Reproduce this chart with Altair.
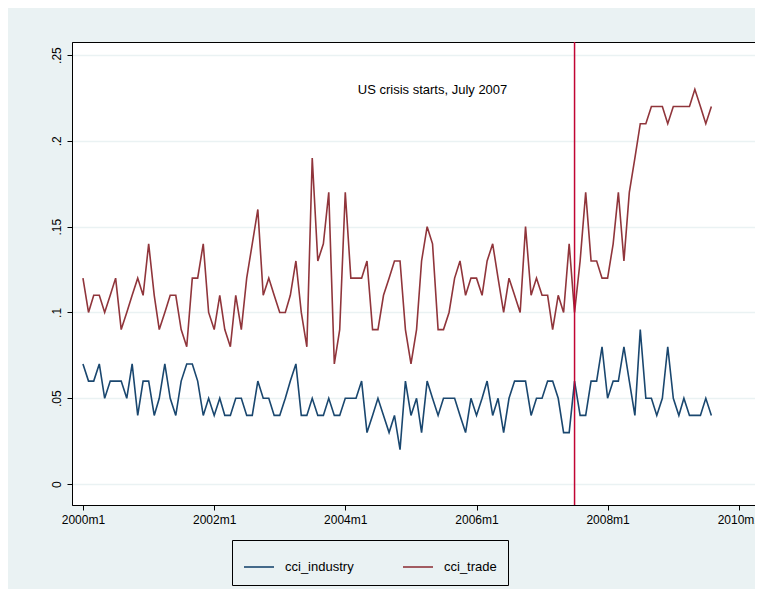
import pandas as pd
import altair as alt

cci_industry = [
    .07, .06, .06, .07, .05, .06, .06, .06, .05, .07, .04, .06, .06, .04, .05, .07, .05, .04, .06, .07,
    .07, .06, .04, .05, .04, .05, .04, .04, .05, .05, .04, .04, .06, .05, .05, .04, .04, .05, .06, .07,
    .04, .04, .05, .04, .04, .05, .04, .04, .05, .05, .05, .06, .03, .04, .05, .04, .03, .04, .02, .06,
    .04, .05, .03, .06, .05, .04, .05, .05, .05, .04, .03, .05, .04, .05, .06, .04, .05, .03, .05, .06,
    .06, .06, .04, .05, .05, .06, .06, .05, .03, .03, .06, .04, .04, .06, .06, .08, .05, .06, .06, .08,
    .06, .04, .09, .05, .05, .04, .05, .08, .05, .04, .05, .04, .04, .04, .05, .04,
]
cci_trade = [
    .12, .10, .11, .11, .10, .11, .12, .09, .10, .11, .12, .11, .14, .11, .09, .10, .11, .11, .09, .08,
    .12, .12, .14, .10, .09, .11, .09, .08, .11, .09, .12, .14, .16, .11, .12, .11, .10, .10, .11, .13,
    .10, .08, .19, .13, .14, .17, .07, .09, .17, .12, .12, .12, .13, .09, .09, .11, .12, .13, .13, .09,
    .07, .09, .13, .15, .14, .09, .09, .10, .12, .13, .11, .12, .12, .11, .13, .14, .12, .10, .12, .11,
    .10, .15, .11, .12, .11, .11, .09, .11, .10, .14, .10, .13, .17, .13, .13, .12, .12, .14, .17, .13,
    .17, .19, .21, .21, .22, .22, .22, .21, .22, .22, .22, .22, .23, .22, .21, .22,
]
dates = pd.date_range("2000-01-01", periods=len(cci_trade), freq="MS")

df = pd.DataFrame({
    "date": list(dates) * 2,
    "value": cci_industry + cci_trade,
    "series": ["cci_industry"] * len(dates) + ["cci_trade"] * len(dates),
})

font = "Liberation Sans"
x_scale = alt.Scale(domain=["1999-11-01", "2010-04-01"])
y_scale = alt.Scale(domain=[-0.0122, 0.2576], nice=False, zero=False)

lines = alt.Chart(df).mark_line(strokeWidth=1.6).encode(
    x=alt.X("date:T", scale=x_scale, title=None,
            axis=alt.Axis(values=[f"{y}-01-01" for y in range(2000, 2011, 2)],
                          labelExpr="year(datum.value) + 'm1'", grid=False,
                          domain=False, tickColor="black", labelColor="black",
                          labelFontSize=12, labelFont=font, labelPadding=4)),
    y=alt.Y("value:Q", scale=y_scale, title=None,
            axis=alt.Axis(values=[0, .05, .1, .15, .2, .25],
                          labelExpr="datum.value == 0 ? '0' : replace(format(datum.value, '.2~f'), '0.', '.')",
                          labelAngle=270, labelAlign="center", labelBaseline="bottom",
                          gridColor="#eaf2f3", gridWidth=1.5, domainColor="black",
                          tickColor="black", labelColor="black", labelFontSize=12,
                          labelFont=font, labelPadding=4)),
    color=alt.Color("series:N", title=None,
                    scale=alt.Scale(domain=["cci_industry", "cci_trade"],
                                    range=["#1a476f", "#90353b"]),
                    legend=alt.Legend(orient="none", legendX=160, legendY=498,
                                      direction="horizontal", symbolType="stroke",
                                      symbolSize=900, symbolStrokeWidth=1.6,
                                      labelFontSize=13, labelFont=font, labelColor="black",
                                      labelOffset=10, columnPadding=45, padding=11,
                                      fillColor="#eaf2f3", strokeColor="black")),
)

crisis = alt.Chart(pd.DataFrame({"date": ["2007-07-01"]})).mark_rule(
    color="#c10534", strokeWidth=1.5).encode(x="date:T")

note = alt.Chart(pd.DataFrame({"date": ["2005-05-01"], "value": [0.2296],
                               "text": ["US crisis starts, July 2007"]})).mark_text(
    fontSize=13, font=font, color="black").encode(x="date:T", y="value:Q", text="text:N")

chart = alt.layer(lines, crisis, note).properties(
    width=683, height=463,
    autosize=alt.AutoSizeParams(type="none"),
    padding={"left": 64, "top": 34, "right": 0, "bottom": 84},
    background="#eaf2f3",
).configure_view(fill="white", stroke="black", strokeWidth=1)

chart.save("out.html", embed_options={"renderer": "svg", "actions": False})
